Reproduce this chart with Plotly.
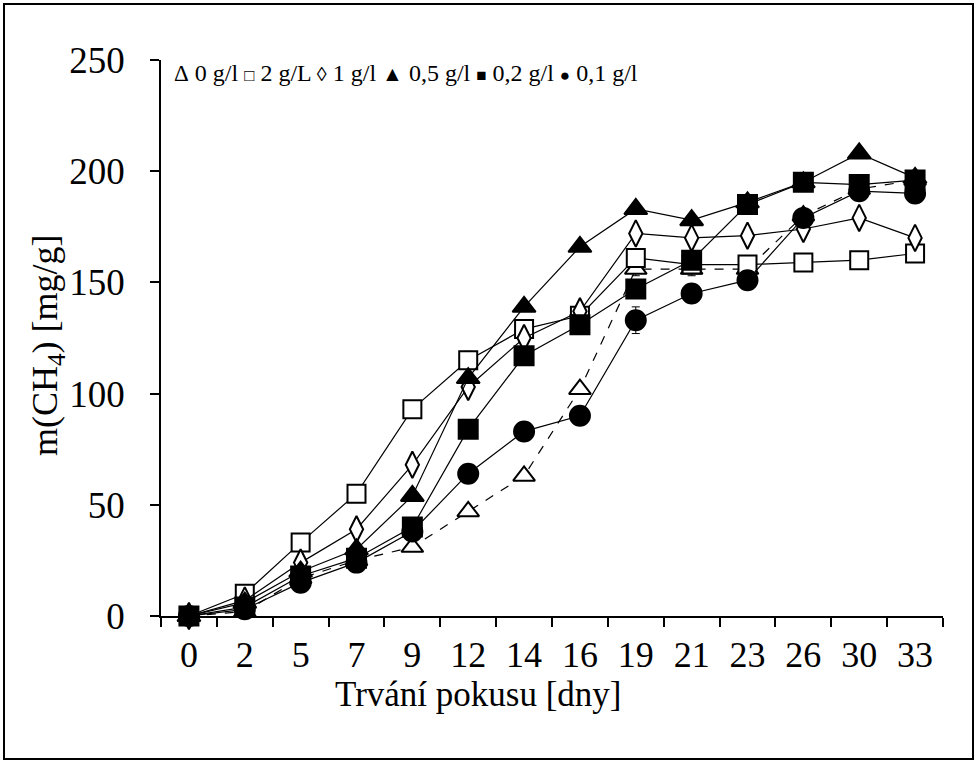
import plotly.graph_objects as go

days = ["0", "2", "5", "7", "9", "12", "14", "16", "19", "21", "23", "26", "30", "33"]

g0 = [0, 2, 17, 25, 31, 47, 63, 102, 156, 156, 156, 180, 192, 196]
g2 = [0, 10, 33, 55, 93, 115, 129, 135, 161, 158, 158, 159, 160, 163]
g1 = [0, 7, 24, 39, 68, 103, 125, 137, 172, 170, 171, 174, 179, 170]
g05 = [0, 6, 20, 30, 54, 107, 139, 166, 183, 178, 186, 195, 208, 197]
g02 = [0, 4, 18, 26, 40, 84, 117, 131, 147, 160, 185, 195, 194, 196]
g01 = [0, 3, 15, 24, 38, 64, 83, 90, 133, 145, 151, 179, 191, 190]

err2 = [0, 1, 2, 2, 3, 4, 4, 2, 4, 3, 3, 2, 2, 4]
err1 = [0, 1, 2, 2, 2, 3, 3, 2, 2, 2, 2, 2, 2, 2]
err0 = [0, 1, 1, 1, 1, 2, 2, 2, 3, 3, 3, 2, 2, 2]
err01 = [0, 1, 1, 1, 1, 2, 1, 1, 6, 2, 2, 2, 2, 2]

x_title = "Trvání pokusu [dny]"
y_title = "m(CH<sub>4</sub>) [mg/g]"
legend_items = [("\u0394", "0 g/l", 23), ("\u25a1", "2 g/L", 17), ("\u25ca", "1 g/l", 20),
                ("\u25b2", "0,5 g/l", 21), ("\u25a0", "0,2 g/l", 17), ("\u25cf", "0,1 g/l", 17)]

FONT = "Liberation Serif"
L, R, T, B = 161, 34, 60, 147
PW, PH = 977 - L - R, 763 - T - B

fig = go.Figure()

def add(y, symbol, fill, dash, size, err=None):
    fig.add_trace(go.Scatter(
        x=days, y=y, mode="lines+markers",
        line=dict(color="black", width=1.2, dash=dash),
        marker=dict(symbol=symbol, size=size, color=fill,
                    line=dict(color="black", width=2)),
        error_y=(dict(type="data", array=err, visible=True, color="black",
                      thickness=1, width=4) if err else None),
        showlegend=False, cliponaxis=False,
    ))

add(g0, "triangle-up", "white", "dash", 19, err0)
add(g2, "square", "white", "solid", 18, err2)
add(g1, "diamond-tall", "white", "solid", 19, err1)
add(g05, "triangle-up", "black", "solid", 20)
add(g02, "square", "black", "solid", 19)
add(g01, "circle", "black", "solid", 20, err01)

def px_x(px):
    return (px - L) / PW

def px_y(py):
    return (763 - B - py) / PH

legend_text = " ".join(
    f"<span style='font-size:{fs}px'>{s}</span> {t}" for s, t, fs in legend_items
)

fig.update_layout(
    width=977, height=763,
    margin=dict(l=L, r=R, t=T, b=B),
    paper_bgcolor="white", plot_bgcolor="white",
    font=dict(family=FONT, color="black", size=28),
    xaxis=dict(
        type="category", range=[-0.5, 13.5],
        showline=True, linecolor="black", linewidth=1.5,
        ticks="outside", tickson="boundaries", ticklen=9, tickcolor="black", tickwidth=1.5,
        showgrid=False, zeroline=False,
        tickfont=dict(family=FONT, size=36),
        ticklabelstandoff=6,
    ),
    yaxis=dict(
        range=[0, 250], tickvals=[0, 50, 100, 150, 200, 250],
        showline=True, linecolor="black", linewidth=1.5,
        ticks="outside", ticklen=9, tickcolor="black", tickwidth=1.5,
        showgrid=False, zeroline=False,
        tickfont=dict(family=FONT, size=37),
        ticklabelstandoff=18,
    ),
    shapes=[dict(type="rect", xref="paper", yref="paper",
                 x0=px_x(4), x1=px_x(973), y0=px_y(759), y1=px_y(4),
                 line=dict(color="black", width=2), fillcolor="rgba(0,0,0,0)")],
    annotations=[
        dict(xref="paper", yref="paper", x=px_x(172), y=px_y(73),
             xanchor="left", yanchor="middle", showarrow=False,
             text=legend_text, font=dict(family=FONT, size=24, color="black")),
        dict(xref="paper", yref="paper", x=px_x(478), y=px_y(694),
             xanchor="center", yanchor="middle", showarrow=False,
             text=x_title, font=dict(family=FONT, size=35, color="black")),
        dict(xref="paper", yref="paper", x=px_x(48), y=px_y(345),
             xanchor="center", yanchor="middle", showarrow=False, textangle=-90,
             text=y_title, font=dict(family=FONT, size=36, color="black")),
    ],
)

fig.write_html("out.html")
